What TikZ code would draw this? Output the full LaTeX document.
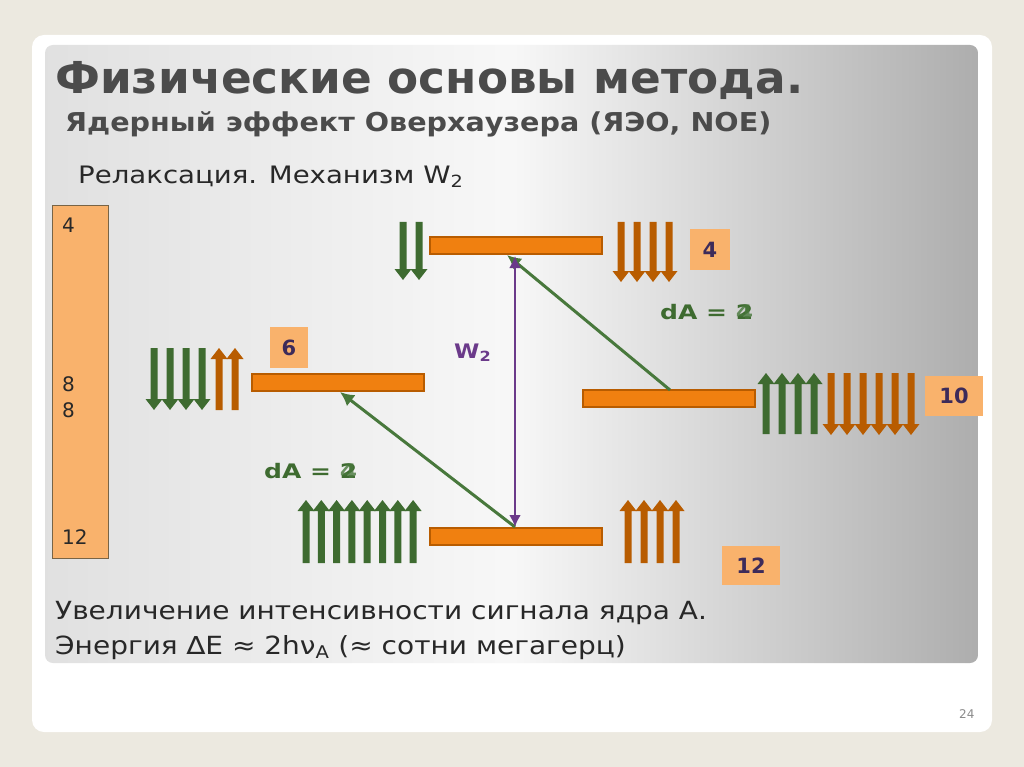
\documentclass[tikz,border=0pt]{standalone}
\usepackage{fontspec}
\setmainfont{DejaVu Sans}
\usetikzlibrary{arrows.meta}
\definecolor{gA}{RGB}{62,107,48}
\definecolor{oA}{RGB}{184,92,0}
\definecolor{pA}{RGB}{107,58,138}
\definecolor{gB}{RGB}{72,120,60}
\definecolor{lvlF}{RGB}{240,128,16}
\definecolor{nbF}{RGB}{249,178,108}
\definecolor{nbT}{RGB}{61,43,90}
\definecolor{bgO}{RGB}{236,233,224}
\definecolor{txD}{RGB}{40,40,40}
\definecolor{ttl}{RGB}{75,75,75}
\definecolor{lbD}{RGB}{120,100,70}
\newcommand\blkarr[4]{\fill[#4] (#1-3.5,#2) -- (#1+3.5,#2) -- ({#1+3.5},{#3+(#2>#3?11:-11)}) -- (#1+8.5,{#3+(#2>#3?11:-11)}) -- (#1,#3) -- (#1-8.5,{#3+(#2>#3?11:-11)}) -- (#1-3.5,{#3+(#2>#3?11:-11)}) -- cycle;}
\newcommand\wide[2]{\scalebox{#1}[1]{#2}}
\begin{document}
\begin{tikzpicture}[x=1pt,y=-1pt,
  lvl/.style={fill=lvlF,draw=oA,line width=2pt,minimum width=172pt,minimum height=17pt,inner sep=0pt},
  numbox/.style={fill=nbF,text=nbT,font=\bfseries\fontsize{21}{21}\selectfont,inner sep=0pt},
  txt/.style={text=txD,inner sep=0pt,anchor=base west}]
\useasboundingbox (0,0) rectangle (1024,767);
\fill[bgO] (0,0) rectangle (1024,767);
\fill[white,rounded corners=12pt] (32,35) rectangle (992,732);
\shade[left color=black!12,right color=black!32,middle color=white!97!black,rounded corners=8pt] (45,45) rectangle (978,663);
\node[txt,text=ttl,font=\bfseries\fontsize{44}{44}\selectfont] (t1) at (55,94) {\wide{1.03}{Физические основы метода.}};
\node[txt,text=ttl,font=\bfseries\fontsize{26}{26}\selectfont] (t2) at (65,132) {\wide{1.1}{Ядерный эффект Оверхаузера (ЯЭО, NOE)}};
\node[txt,font=\fontsize{24}{24}\selectfont] (t3) at (78,184) {\wide{1.15}{Релаксация. Механизм W\textsubscript{2}}};
\node[fill=nbF,draw=lbD,line width=0.6pt,minimum width=56pt,minimum height=353pt,inner sep=0pt] (lbox) at (80,381.5) {};
\foreach \n/\y in {4/233,8/391,8/417,12/544}{\node[txt,font=\fontsize{20}{20}\selectfont] at (62,\y) {\n};}
\node[lvl] (L4) at (516,245.5) {};
\node[lvl] (L6) at (338,382.5) {};
\node[lvl] (L10) at (669,398.5) {};
\node[lvl] (L12) at (516,536) {};
\foreach \x in {403,419}{\blkarr{\x}{222}{280}{gA}}
\foreach \i in {0,...,3}{\blkarr{621+16*\i}{222}{282}{oA}}
\foreach \i in {0,...,3}{\blkarr{154+16*\i}{348}{410}{gA}}
\foreach \i in {0,1}{\blkarr{219+16*\i}{410}{348}{oA}}
\foreach \i in {0,...,3}{\blkarr{766+16*\i}{434}{373}{gA}}
\foreach \i in {0,...,5}{\blkarr{831+16*\i}{373}{435}{oA}}
\foreach \i in {0,...,7}{\blkarr{306+15.3*\i}{563}{500}{gA}}
\foreach \i in {0,...,3}{\blkarr{628+16*\i}{563}{500}{oA}}
\node[numbox,minimum width=40pt,minimum height=41pt] (n4) at (710,249.5) {4};
\node[numbox,minimum width=38pt,minimum height=41pt] (n6) at (289,347.5) {6};
\node[numbox,minimum width=58pt,minimum height=40pt] (n10) at (954,396) {10};
\node[numbox,minimum width=58pt,minimum height=39pt] (n12) at (751,565.5) {12};
\coordinate (a1) at (670,390);
\coordinate (a2) at (507,255);
\coordinate (b1) at (515,527);
\coordinate (b2) at (340,392);
\coordinate (c1) at (515,256);
\draw[gB,line width=3pt,-{Latex[length=14pt,width=14pt]}] (a1) -- (a2);
\draw[gB,line width=3pt,-{Latex[length=14pt,width=14pt]}] (b1) -- (b2);
\draw[pA,line width=2.4pt,{Latex[length=12pt,width=12pt]}-{Latex[length=12pt,width=12pt]}] (c1) -- (b1);
\node[txt,text=pA,font=\bfseries\fontsize{20}{20}\selectfont] (w2) at (454,358) {\wide{1.15}{W\textsubscript{2}}};
\foreach \px/\py/\nm in {660/319/d1,264/478/d2}{
 \node[txt,text=gA,font=\bfseries\fontsize{20}{20}\selectfont] (\nm) at (\px,\py) {\wide{1.25}{dA = 2}};
 \node[txt,text=gB,font=\bfseries\fontsize{20}{20}\selectfont,opacity=0.8] at (\px,\py) {\wide{1.25}{\phantom{dA = }4}};}
\node[txt,font=\fontsize{25}{25}\selectfont] (b1t) at (55,619) {\wide{1.12}{Увеличение интенсивности сигнала ядра А.}};
\node[txt,font=\fontsize{25}{25}\selectfont] (b2t) at (55,654) {\wide{1.12}{Энергия ∆E ≈ 2hν\textsubscript{A} (≈ сотни мегагерц)}};
\node[txt,text=black!45,font=\fontsize{12}{12}\selectfont] (pg) at (959,718) {24};
\end{tikzpicture}
\end{document}
